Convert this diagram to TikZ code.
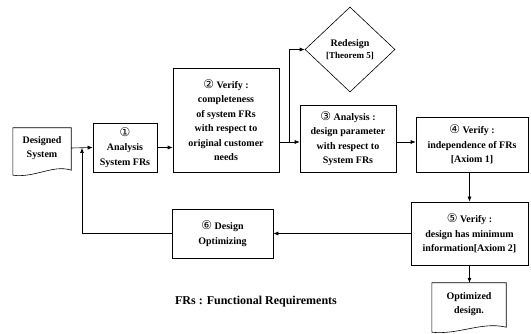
\documentclass[tikz,border=0pt]{standalone}
\usepackage{fontspec}
\setmainfont{Liberation Serif}
\newfontfamily\circfont{DejaVu Sans}
\usetikzlibrary{arrows.meta,shapes.geometric,calc}
\newcommand{\cn}[1]{{\circfont\mdseries\fontsize{12}{10}\selectfont #1}}
\begin{document}
\begin{tikzpicture}[x=1pt,y=-1pt,
  every node/.style={font=\bfseries\fontsize{10}{14.5}\selectfont, align=center},
  box/.style={draw, line width=0.6pt, inner sep=1pt},
  link/.style={line width=0.6pt, -{Latex[length=5pt,width=4pt]}},
  plain/.style={line width=0.6pt}]
\useasboundingbox (0,0) rectangle (531,334);
% nodes
\node[minimum width=58pt, minimum height=40pt, inner sep=0] (ds) at (42,148) {Designed\\System};
\node[box, minimum width=64pt, minimum height=49pt] (b1) at (125,147.5) {\cn{①}\\Analysis\\System FRs};
\node[box, minimum width=106pt, minimum height=104pt] (b2) at (226,120) {\cn{②} Verify :\\completeness\\of system FRs\\with respect to\\original customer\\needs};
\node[draw, diamond, line width=0.6pt, aspect=1.06, minimum width=90pt, minimum height=85pt, inner sep=0] (rd) at (350,49.5) {Redesign\\[-3pt]{\fontsize{9}{10}\selectfont [Theorem 5]}};
\node[box, minimum width=96pt, minimum height=67pt] (b3) at (348,138.5) {\cn{③} Analysis :\\design parameter\\with respect to\\System FRs};
\node[box, minimum width=112pt, minimum height=55pt] (b4) at (472,144.5) {\cn{④} Verify :\\independence of FRs\\{[}Axiom 1{]}};
\node[box, minimum width=117pt, minimum height=63pt] (b5) at (469.5,233.5) {\cn{⑤} Verify :\\design has minimum\\information{[}Axiom 2{]}};
\node[box, minimum width=101pt, minimum height=49pt] (b6) at (222.5,233.5) {\cn{⑥} Design\\Optimizing};
\node[minimum width=74pt, minimum height=42pt, inner sep=0] (od) at (469,304) {Optimized\\design.};
\node[font=\bfseries\fontsize{12}{14}\selectfont] (fr) at (256,302) {FRs : Functional Requirements};
% document shapes
\draw[plain] (ds.south west) -- (ds.north west) -- (ds.north east) -- ($(ds.south east)+(0,2)$)
  .. controls ($(ds.south east)+(-18,-4)$) and ($(ds.south west)+(22,10)$) .. ($(ds.south west)+(0,7)$) -- cycle;
\draw[plain] (od.south west) -- (od.north west) -- (od.north east) -- ($(od.south east)+(0,2)$)
  .. controls ($(od.south east)+(-24,-4)$) and ($(od.south west)+(26,10)$) .. ($(od.south west)+(0,7)$) -- cycle;
% connectors
\coordinate (br) at (289,142);
\coordinate (fb) at (82,148);
\draw[link] (ds.east) -- (b1.west);
\draw[link] (b1.east) -- (b2.west |- b1.east);
\draw[plain] (b2.east |- br) -- (br);
\draw[link] (br) -- (b3.west |- br);
\draw[link] (br) |- (rd.west);
\draw[link] (b3.east |- br) -- (b4.west |- br);
\draw[link] (b5.north |- b4.south) -- (b5.north);
\draw[link] (b5.west) -- (b6.east);
\draw[link] (b6.west) -| (fb);
\draw[link] (b5.south) -- (b5.south |- od.north);
\end{tikzpicture}
\end{document}
